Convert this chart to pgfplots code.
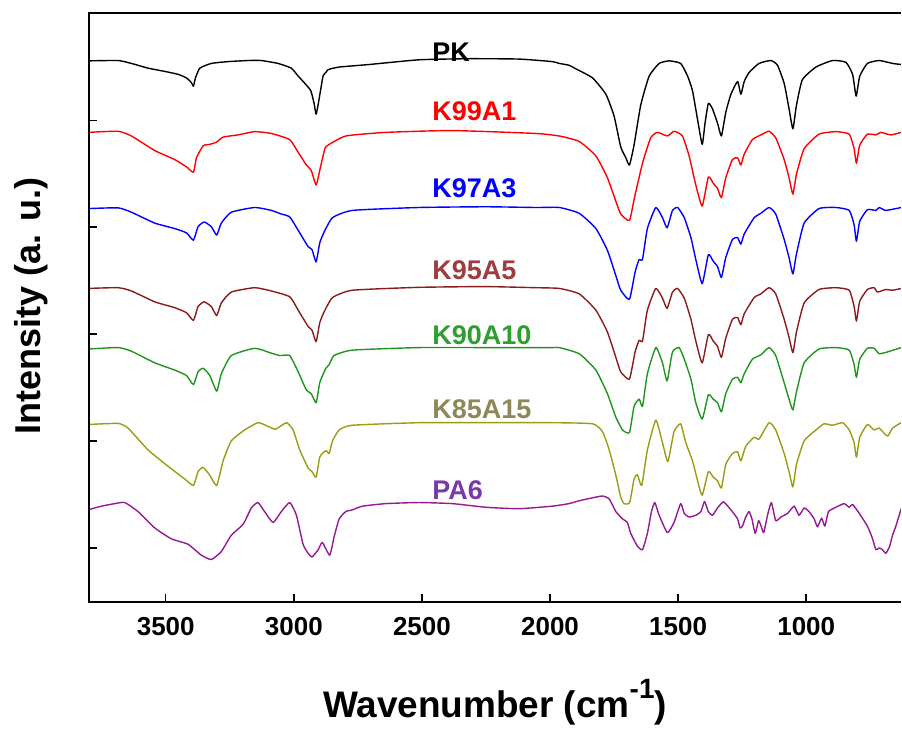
\documentclass[border=0pt]{standalone}
\usepackage{pgfplots}
\pgfplotsset{compat=1.18}
\usepackage{fontspec}
\setmainfont{Liberation Sans}
\definecolor{cKb}{HTML}{8B1A1A}
\definecolor{cKbL}{HTML}{9E3D3D}
\definecolor{cKg}{HTML}{1E961E}
\definecolor{cKgL}{HTML}{2E9E2E}
\definecolor{cKo}{HTML}{9B9B14}
\definecolor{cKoL}{HTML}{8C8858}
\definecolor{cPA}{HTML}{941A94}
\definecolor{cPAL}{HTML}{7A38A8}
\begin{document}
\begin{tikzpicture}
\begin{axis}[
  scale only axis, width=813bp, height=590bp,
  x dir=reverse, xmin=630, xmax=3800, ymin=0, ymax=1624,
  axis line style={draw=none},
  xtick={1000,1500,2000,2500,3000,3500},
  ytick={150,445,740,1034,1328},
  yticklabels={},
  tick pos=left,
  tick align=inside,
  major tick length=8bp,
  tick style={line width=1.5bp, black},
  /pgf/number format/1000 sep={},
  /pgf/number format/assume math mode=true,
  xticklabel style={font=\fontsize{26bp}{30bp}\selectfont\bfseries, yshift=-12bp},
  xlabel={Wavenumber (cm\raisebox{19bp}{\fontsize{28bp}{30bp}\selectfont -1})},
  xlabel style={font=\fontsize{37bp}{42bp}\selectfont\bfseries, at={(axis description cs:0.5,-0.1949)}, anchor=base},
  ylabel={Intensity (a. u.)},
  ylabel style={font=\fontsize{36bp}{42bp}\selectfont\bfseries, at={(axis description cs:-0.0713,0.503)}, anchor=center},
  every axis plot/.append style={line width=1.4bp, line join=round, smooth, tension=0.3},
]
% PK
\addplot[black] coordinates {
(3803,1492)(3686,1493)(3634,1485)(3569,1472)(3504,1463)(3452,1455)(3419,1445)(3400,1432)(3392,1422)(3384,1445)(3367,1472)(3322,1485)(3257,1490)(3179,1493)(3127,1493)(3062,1485)(3010,1472)(2983,1450)(2957,1430)(2934,1410)(2921,1375)(2913,1345)(2903,1380)(2886,1450)(2875,1460)(2866,1468)(2823,1475)(2706,1482)(2511,1495)(2316,1498)(2121,1497)(1991,1490)(1964,1485)(1926,1480)(1899,1470)(1834,1445)(1782,1400)(1750,1340)(1724,1255)(1704,1225)(1690,1205)(1672,1260)(1646,1370)(1613,1450)(1574,1485)(1535,1492)(1490,1485)(1463,1450)(1444,1410)(1424,1330)(1406,1262)(1395,1320)(1382,1375)(1366,1360)(1346,1320)(1331,1285)(1314,1350)(1294,1400)(1268,1435)(1255,1400)(1242,1435)(1223,1460)(1184,1485)(1138,1493)(1112,1480)(1086,1430)(1067,1360)(1052,1305)(1038,1370)(1015,1440)(962,1475)(897,1493)(845,1488)(819,1455)(805,1395)(791,1450)(761,1485)(715,1493)(663,1485)(629,1482)};
% K99A1
\addplot[red] coordinates {
(3803,1295)(3686,1298)(3634,1285)(3543,1245)(3465,1220)(3419,1200)(3392,1185)(3380,1225)(3354,1258)(3328,1262)(3302,1268)(3276,1282)(3218,1288)(3153,1297)(3088,1292)(3016,1275)(2983,1240)(2951,1205)(2932,1190)(2913,1150)(2899,1190)(2879,1250)(2866,1260)(2797,1285)(2641,1295)(2381,1300)(2056,1292)(1964,1285)(1886,1270)(1821,1230)(1776,1170)(1743,1105)(1724,1070)(1690,1052)(1672,1110)(1639,1210)(1607,1280)(1581,1295)(1542,1285)(1516,1298)(1483,1285)(1457,1230)(1431,1150)(1406,1092)(1382,1172)(1363,1155)(1346,1140)(1331,1115)(1314,1170)(1288,1220)(1268,1225)(1255,1205)(1242,1235)(1210,1275)(1171,1290)(1145,1298)(1119,1280)(1086,1220)(1067,1170)(1052,1125)(1038,1180)(1008,1250)(950,1290)(884,1297)(832,1290)(813,1250)(804,1210)(791,1260)(761,1290)(728,1288)(709,1295)(670,1288)(629,1295)};
% K97A3
\addplot[blue] coordinates {
(3803,1085)(3686,1087)(3634,1075)(3543,1045)(3465,1030)(3419,1018)(3392,998)(3374,1035)(3350,1048)(3322,1035)(3301,1012)(3283,1045)(3244,1075)(3153,1088)(3088,1080)(3049,1070)(3016,1062)(2983,1025)(2944,980)(2929,972)(2913,938)(2899,990)(2882,1020)(2849,1060)(2771,1080)(2511,1088)(2251,1090)(2056,1088)(1964,1088)(1886,1072)(1821,1030)(1776,970)(1743,900)(1724,860)(1690,835)(1668,910)(1652,945)(1639,945)(1620,1030)(1587,1088)(1561,1060)(1543,1032)(1522,1080)(1502,1088)(1476,1060)(1450,1005)(1431,945)(1406,878)(1382,958)(1363,940)(1346,925)(1331,895)(1314,950)(1288,1000)(1268,1005)(1255,987)(1242,1015)(1203,1060)(1177,1072)(1145,1088)(1119,1070)(1086,1000)(1067,950)(1052,905)(1038,960)(1008,1045)(950,1085)(884,1088)(832,1080)(813,1040)(804,995)(791,1050)(761,1082)(728,1080)(715,1088)(689,1080)(629,1088)};
% K95A5
\addplot[cKb] coordinates {
(3803,865)(3686,867)(3634,858)(3543,828)(3465,812)(3419,798)(3392,777)(3374,815)(3350,828)(3322,815)(3301,790)(3283,825)(3244,855)(3153,867)(3088,858)(3016,842)(2983,805)(2944,760)(2929,750)(2913,718)(2899,770)(2882,800)(2849,840)(2771,860)(2511,868)(2251,870)(2056,867)(1964,865)(1886,850)(1821,805)(1776,745)(1743,675)(1724,635)(1690,615)(1668,690)(1652,722)(1639,720)(1620,805)(1587,865)(1561,838)(1543,810)(1522,855)(1502,865)(1476,838)(1450,780)(1431,720)(1406,660)(1382,738)(1363,720)(1346,705)(1331,675)(1314,728)(1288,780)(1268,785)(1255,765)(1242,795)(1203,840)(1177,850)(1145,867)(1119,850)(1086,780)(1067,730)(1052,688)(1038,745)(1008,825)(950,862)(884,867)(832,860)(813,815)(804,775)(791,830)(761,862)(735,867)(722,855)(689,862)(663,860)(629,865)};
% K90A10
\addplot[cKg] coordinates {
(3803,698)(3686,702)(3634,692)(3543,660)(3465,640)(3419,625)(3392,600)(3374,635)(3354,645)(3328,625)(3301,582)(3283,630)(3244,680)(3153,700)(3094,688)(3055,680)(3016,680)(2983,635)(2951,585)(2932,575)(2913,550)(2899,605)(2888,625)(2875,645)(2862,655)(2843,680)(2771,695)(2511,702)(2251,702)(1991,702)(1964,702)(1886,685)(1821,640)(1776,575)(1743,510)(1717,475)(1690,468)(1672,540)(1652,560)(1639,540)(1620,630)(1587,702)(1561,660)(1543,610)(1522,690)(1496,702)(1476,670)(1450,615)(1431,550)(1406,505)(1382,572)(1363,560)(1346,550)(1331,525)(1314,575)(1288,615)(1268,620)(1255,605)(1242,630)(1210,670)(1177,682)(1145,702)(1119,680)(1086,605)(1067,560)(1052,530)(1038,580)(1008,660)(950,698)(884,702)(832,695)(813,655)(804,620)(791,670)(761,700)(735,700)(715,685)(683,690)(629,702)};
% K85A15
\addplot[cKo] coordinates {
(3803,490)(3686,493)(3647,480)(3569,420)(3491,375)(3426,340)(3392,322)(3374,360)(3354,372)(3328,350)(3301,322)(3276,390)(3244,445)(3192,475)(3140,495)(3101,485)(3071,477)(3029,495)(3003,475)(2977,420)(2944,370)(2929,360)(2913,345)(2899,400)(2886,412)(2873,418)(2862,410)(2849,445)(2823,475)(2771,488)(2511,495)(2251,495)(1991,495)(1834,492)(1795,470)(1769,420)(1743,350)(1724,290)(1711,272)(1689,275)(1672,340)(1659,352)(1642,322)(1620,420)(1587,502)(1561,440)(1540,388)(1516,470)(1490,492)(1470,440)(1444,390)(1424,335)(1406,295)(1382,360)(1363,345)(1346,335)(1331,315)(1314,380)(1288,410)(1268,415)(1255,390)(1236,430)(1203,455)(1184,450)(1145,495)(1119,475)(1086,410)(1067,360)(1052,318)(1038,380)(1008,445)(962,475)(930,492)(897,488)(858,495)(832,475)(813,440)(804,400)(791,455)(761,490)(735,475)(715,480)(683,458)(663,480)(629,495)};
% PA6
\addplot[cPA] coordinates {
(3803,255)(3751,265)(3699,272)(3660,275)(3608,250)(3543,205)(3478,175)(3413,160)(3361,130)(3322,118)(3283,140)(3244,185)(3198,215)(3166,260)(3140,275)(3114,250)(3081,220)(3049,250)(3016,275)(2990,240)(2964,160)(2944,135)(2929,125)(2905,145)(2889,165)(2860,130)(2843,180)(2823,230)(2797,250)(2771,255)(2732,265)(2641,272)(2511,275)(2381,272)(2251,262)(2121,258)(1991,265)(1926,272)(1886,280)(1834,288)(1795,293)(1769,285)(1743,250)(1717,230)(1698,220)(1685,190)(1659,155)(1639,145)(1620,190)(1604,250)(1591,275)(1574,240)(1542,192)(1516,220)(1490,272)(1476,245)(1457,235)(1431,240)(1411,250)(1397,278)(1382,250)(1366,240)(1346,260)(1323,277)(1294,255)(1268,230)(1258,205)(1249,210)(1236,235)(1223,250)(1212,230)(1199,190)(1186,225)(1176,210)(1166,192)(1151,240)(1136,275)(1119,225)(1099,235)(1073,245)(1047,265)(1028,240)(1008,260)(989,250)(969,230)(956,208)(940,232)(927,210)(913,250)(884,262)(852,272)(832,262)(819,270)(793,245)(761,210)(741,175)(728,145)(715,150)(702,145)(689,135)(674,155)(663,185)(650,210)(637,240)(629,258)};
\tikzset{lbl/.style={anchor=west, inner sep=0pt, font=\fontsize{27bp}{30bp}\selectfont\bfseries}}
\node[lbl, text=black] at (axis cs:2460,1517) {PK};
\node[lbl, text=red] at (axis cs:2460,1352) {K99A1};
\node[lbl, text=blue] at (axis cs:2460,1140) {K97A3};
\node[lbl, text=cKbL] at (axis cs:2460,915) {K95A5};
\node[lbl, text=cKgL] at (axis cs:2460,735) {K90A10};
\node[lbl, text=cKoL] at (axis cs:2460,532) {K85A15};
\node[lbl, text=cPAL] at (axis cs:2460,310) {PA6};
\end{axis}
\draw[line width=2bp] (current axis.north east) -- (current axis.north west) -- (current axis.south west) -- (current axis.south east);
\path ([xshift=-89bp,yshift=-125bp]current axis.south west) rectangle ([yshift=13bp]current axis.north east);
\end{tikzpicture}
\end{document}
